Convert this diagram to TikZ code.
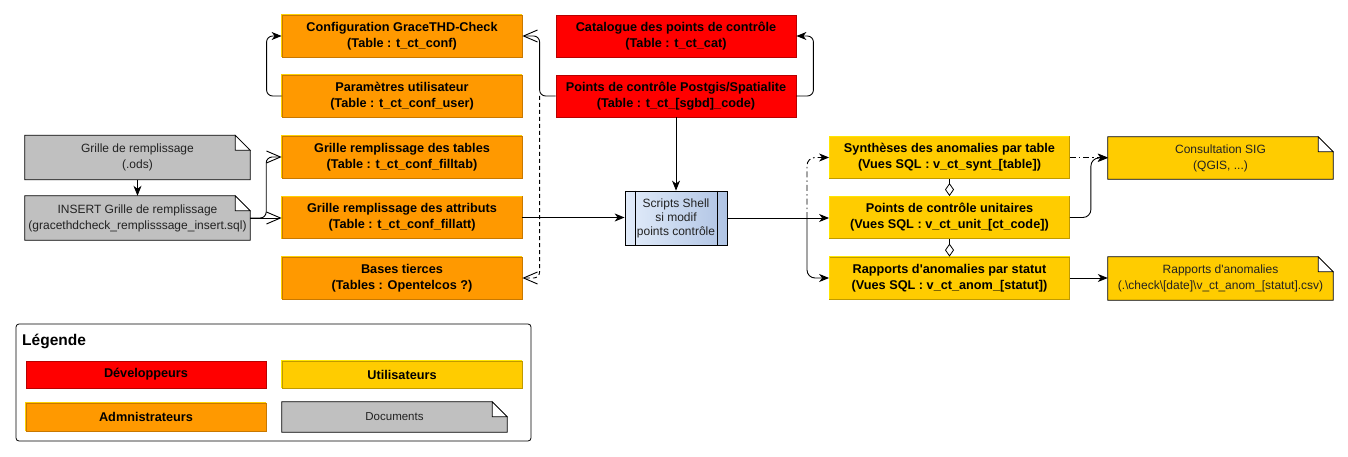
\documentclass[tikz,border=0pt]{standalone}
\usepackage{fontspec}
\setmainfont{Liberation Sans}[Ligatures=TeXOff]
\usetikzlibrary{arrows.meta,backgrounds,calc}

\definecolor{cRed}{HTML}{FF0000}
\definecolor{cRedD}{HTML}{B80000}
\definecolor{cOr}{HTML}{FF9900}
\definecolor{cOrL}{HTML}{FFD000}
\definecolor{cOrD}{HTML}{C87800}
\definecolor{cYe}{HTML}{FFCC00}
\definecolor{cYeL}{HTML}{FFE600}
\definecolor{cYeD}{HTML}{C09A00}
\definecolor{cGr}{HTML}{C0C0C0}
\definecolor{cBlL}{HTML}{E2ECFA}
\definecolor{cBlD}{HTML}{B0C4E4}
\definecolor{cTx}{HTML}{222222}

\tikzset{
  box/.style={minimum width=240pt, minimum height=42pt, inner sep=0pt, align=center,
    font=\fontsize{12.7}{16}\selectfont\bfseries},
  redbox/.style={box, fill=cRed, draw=cRedD, line width=0.8pt},
  orbox/.style={box, fill=cOr, draw=cOrD, line width=0.8pt},
  yebox/.style={box, fill=cYe, draw=cYeD, line width=0.8pt},
  doc/.style={minimum width=225pt, minimum height=44pt, inner sep=0pt, align=center,
    text=cTx, font=\fontsize{12}{16}\selectfont},
  scripts/.style={minimum width=102pt, minimum height=54pt, inner sep=0pt, align=center,
    left color=cBlL, right color=cBlD, draw=black, line width=0.8pt, text=cTx,
    font=\fontsize{12}{14}\selectfont},
  ln/.style={line width=0.9pt},
  fa/.style={ln, -{Stealth[length=10pt,width=8pt,inset=3pt]}},
  oa/.style={ln, -{Straight Barb[length=14pt,width=12pt]}},
  dashdot/.style={dash pattern=on 6pt off 3pt on 1.5pt off 3pt},
  dsh/.style={dash pattern=on 4pt off 3pt},
  dia/.style={line width=0.8pt, -{Diamond[open,length=13pt,width=9pt]}},
}

\newcommand\docbg[2]{%
  \begin{pgfonlayer}{background}
  \draw[fill=#2, line width=0.8pt] (#1.north west) -- ([xshift=-15pt]#1.north east)
    -- ([yshift=-15pt]#1.north east) -- (#1.south east) -- (#1.south west) -- cycle;
  \draw[fill=white, line width=0.8pt] ([xshift=-15pt]#1.north east)
    -- ([xshift=-15pt,yshift=-15pt]#1.north east) -- ([yshift=-15pt]#1.north east) -- cycle;
  \end{pgfonlayer}}

\newcommand\bevel[3]{%
  \draw[#2, line width=1pt] (#1.south west) -- (#1.north west) -- (#1.north east);
  \draw[#3, line width=1pt] (#1.north east) -- (#1.south east) -- (#1.south west);}

\begin{document}
\begin{tikzpicture}[x=1pt,y=-1pt]
\useasboundingbox (0,0) rectangle (1348,457);

% documents (left)
\node[doc] (ods) at (137.5,157.5) {Grille de remplissage\\(.ods)};
\node[doc] (ins) at (137.5,218) {INSERT Grille de remplissage\\(gracethdcheck\_remplisssage\_insert.sql)};
\docbg{ods}{cGr}
\docbg{ins}{cGr}

% orange boxes
\node[orbox] (conf) at (402,36) {Configuration GraceTHD-Check\\(Table : t\_ct\_conf)};
\node[orbox] (user) at (402,96) {Paramètres utilisateur\\(Table : t\_ct\_conf\_user)};
\node[orbox] (filltab) at (402,157) {Grille remplissage des tables\\(Table : t\_ct\_conf\_filltab)};
\node[orbox] (fillatt) at (402,217.5) {Grille remplissage des attributs\\(Table : t\_ct\_conf\_fillatt)};
\node[orbox] (tiers) at (402,278) {Bases tierces\\(Tables : Opentelcos ?)};

% red boxes
\node[redbox] (cat) at (676,36) {Catalogue des points de contrôle\\(Table : t\_ct\_cat)};
\node[redbox] (code) at (676,96) {Points de contrôle Postgis/Spatialite\\(Table : t\_ct\_[sgbd]\_code)};

% scripts
\node[scripts] (sc) at (676,218) {Scripts Shell\\si modif\\points contrôle};
\draw[line width=0.8pt] ([xshift=11pt]sc.north west) -- ([xshift=11pt]sc.south west);
\draw[line width=0.8pt] ([xshift=-10pt]sc.north east) -- ([xshift=-10pt]sc.south east);

% yellow boxes
\node[yebox] (synth) at (949.5,157.5) {Synthèses des anomalies par table\\(Vues SQL : v\_ct\_synt\_[table])};
\node[yebox] (unit) at (949.5,217.5) {Points de contrôle unitaires\\(Vues SQL : v\_ct\_unit\_[ct\_code])};
\node[yebox] (anom) at (949.5,278) {Rapports d'anomalies par statut\\(Vues SQL : v\_ct\_anom\_[statut])};

% yellow documents
\node[doc, minimum height=42pt] (sig) at (1220.5,158) {Consultation SIG\\(QGIS, ...)};
\node[doc, minimum height=43pt] (rap) at (1220.5,278.5) {Rapports d'anomalies\\(.\textbackslash check\textbackslash[date]\textbackslash v\_ct\_anom\_[statut].csv)};
\docbg{sig}{cYe}
\docbg{rap}{cYe}

% bevels
\foreach \n in {conf,user,filltab,fillatt,tiers} {\bevel{\n}{cOrL}{cOrD}}
\foreach \n in {synth,unit,anom} {\bevel{\n}{cYeL}{cYeD}}

% legend
\node[draw, rounded corners=3pt, minimum width=515pt, minimum height=117pt, line width=0.8pt] (leg) at (273.5,382.5) {};
\node[anchor=west, inner sep=0pt, font=\fontsize{15.5}{16}\selectfont\bfseries] (legt) at (22,341) {Légende};
\node[redbox, minimum height=27pt] (ldev) at (146,374.5) {Développeurs};
\node[orbox, minimum height=28pt] (ladm) at (146,417) {Admnistrateurs};
\node[yebox, minimum height=27pt] (lutil) at (402,374.5) {Utilisateurs};
\node[doc, minimum height=30pt, font=\fontsize{11.5}{14}\selectfont] (ldoc) at (394.5,417) {Documents};
\docbg{ldoc}{cGr}
\bevel{ladm}{cOrL}{cOrD}
\bevel{lutil}{cYeL}{cYeD}

% connectors
\draw[fa] (ods) -- (ins);
\draw[oa] (ins.east) -- (ins.east -| fillatt.west);
\draw[oa, rounded corners=6pt] (ins.east) -- ++(16,0) |- (filltab.west);
\draw[fa, rounded corners=6pt] (user.west) -- ++(-15,0) |- (conf.west);
\coordinate (jn) at ([xshift=-16pt]code.west);
\draw[oa, rounded corners=6pt] (code.west) -- (jn) |- (conf.east);
\draw[oa, dsh, rounded corners=6pt] (jn) |- (tiers.east);
\draw[fa, rounded corners=6pt] (code.east) -- ++(17,0) |- (cat.east);
\draw[fa] (code) -- (sc);
\draw[fa] (fillatt.east) -- (fillatt.east -| sc.west);

\coordinate (br) at (807,218);
\draw[ln] (sc.east) -- (br);
\draw[fa, dashdot, rounded corners=8pt] (br) |- (synth.west);
\draw[fa] (br) -- (br -| unit.west);
\draw[fa, rounded corners=8pt] (br) |- (anom.west);

\draw[fa, dashdot] (synth.east) -- (synth.east -| sig.west);
\draw[fa, rounded corners=8pt] (unit.east) -- ++(21,0) |- (sig.west);
\draw[fa] (anom.east) -- (anom.east -| rap.west);

\draw[dia] (synth.south) -- (unit.north);
\draw[dia] (unit.south) -- (anom.north);
\end{tikzpicture}
\end{document}
